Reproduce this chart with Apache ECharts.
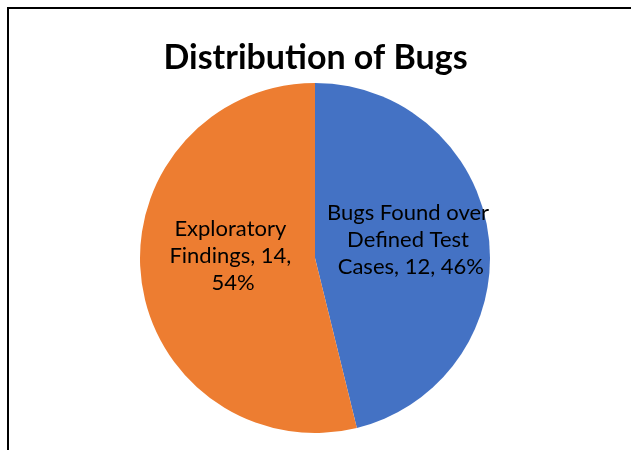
<!DOCTYPE html>
<html><head><meta charset="utf-8">
<script src="https://cdn.jsdelivr.net/npm/echarts@6/dist/echarts.min.js"></script>
<style>html,body{margin:0;padding:0;background:#fff}#c{width:631px;height:450px}</style>
</head><body><div id="c"></div>
<script>
const chartTitle = "Distribution of Bugs";
const categories = ["Bugs Found over Defined Test Cases", "Exploratory Findings"];
const values = [12, 14];
const colors = ["#4472C4", "#ED7D31"];

const chart = echarts.init(document.getElementById('c'), null, {renderer: 'canvas'});
const labelWidths = [172, 130];
const labelShift = [[6, -7], [8, -13]];
chart.setOption({
  backgroundColor: '#fff',
  animation: false,
  title: {
    text: chartTitle, left: 'center', top: 36,
    textStyle: {fontFamily: 'Lato', fontWeight: 'bold', fontSize: 34, color: '#000'}
  },
  graphic: [{type: 'rect', shape: {x: 8, y: 8, width: 660, height: 500}, style: {fill: 'none', stroke: '#000', lineWidth: 2}, silent: true}],
  series: [{
    type: 'pie',
    center: [315, 258], radius: [0, 175],
    startAngle: 90, clockwise: true,
    data: categories.map((n, i) => ({name: n, value: values[i], itemStyle: {color: colors[i]},
      label: {width: labelWidths[i]}})),
    label: {
      show: true, position: 'inside', color: '#000',
      fontFamily: 'Lato', fontSize: 22, lineHeight: 27, align: 'center',
      overflow: 'break',
      formatter: p => p.name + ', ' + p.value + ', ' + Math.round(p.percent) + '%'
    },
    labelLayout: p => ({dx: labelShift[p.dataIndex][0], dy: labelShift[p.dataIndex][1]}),
    itemStyle: {borderWidth: 0}
  }]
});
</script></body></html>
